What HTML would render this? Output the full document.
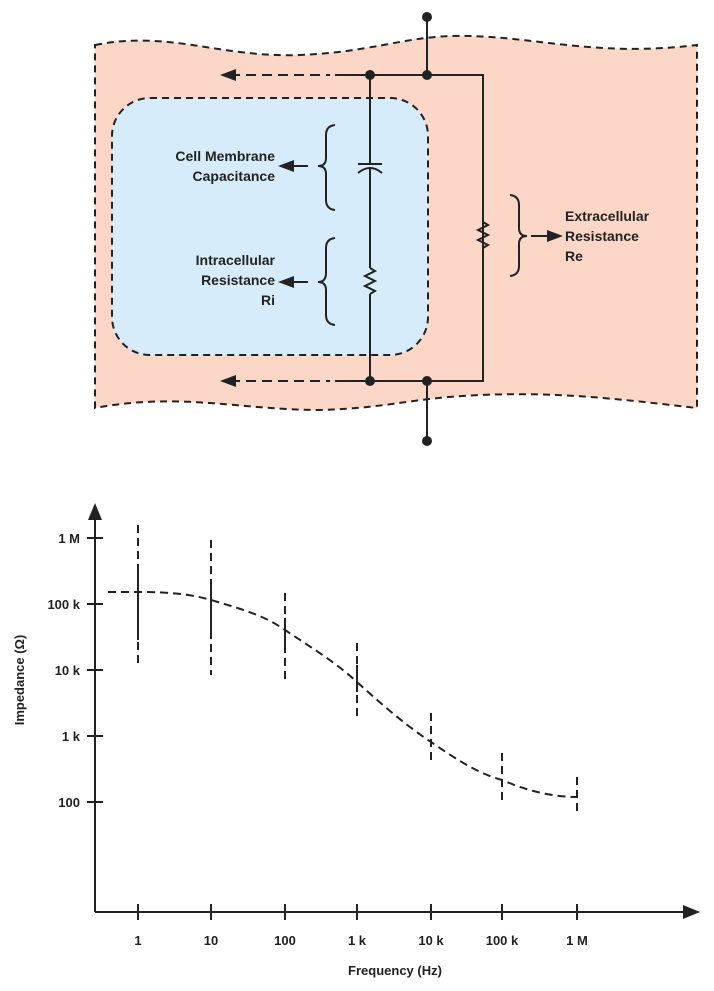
<!DOCTYPE html>
<html><head><style>body{margin:0;background:#fff}svg{display:block}text{font-family:"Liberation Sans",sans-serif;font-weight:bold;fill:#222}</style></head>
<body>
<svg width="714" height="991" viewBox="0 0 714 991" xmlns="http://www.w3.org/2000/svg">
<path d="M95,45 C170,30 220,58 300,55 C370,52 400,38 450,36 C530,34 590,58 697,45 L697,408 C610,398 560,392 480,395 C410,398 390,408 320,410 C240,410 180,392 95,408 Z" fill="#fcd7c7" stroke="#222" stroke-width="2" stroke-dasharray="7,5"/>
<rect x="112" y="98" width="316" height="257" rx="38" fill="#d6ecfa" stroke="#222" stroke-width="2" stroke-dasharray="7,5"/>
<g stroke="#222" stroke-width="2" fill="none">
<line x1="427" y1="17" x2="427" y2="75"/>
<line x1="427" y1="381" x2="427" y2="441"/>
<polyline points="335,75 483,75 483,381 335,381"/>
<line x1="230" y1="75" x2="330" y2="75" stroke-dasharray="10,6"/>
<line x1="230" y1="381" x2="330" y2="381" stroke-dasharray="10,6"/>
<line x1="370" y1="75" x2="370" y2="164"/>
<line x1="358" y1="164" x2="382" y2="164"/>
<path d="M358,173 Q370,163 382,173"/>
<line x1="370" y1="169" x2="370" y2="268"/>
<polyline points="370,268 375,271 365,276 375,281 365,286 375,291 370,294"/>
<line x1="370" y1="294" x2="370" y2="381"/>
<line x1="483" y1="75" x2="483" y2="222"/>
<polyline points="483,222 488,225 478,230 488,235 478,240 488,245 483,248"/>
<path d="M335,125 Q326,126 326,135 L326,158 Q326,166 318,166 Q326,166 326,174 L326,200 Q326,209 335,210"/>
<path d="M335,238 Q326,239 326,248 L326,273 Q326,282 318,282 Q326,282 326,290 L326,315 Q326,324 335,325"/>
<path d="M510,195 Q519,196 519,205 L519,228 Q519,236 527,236 Q519,236 519,244 L519,266 Q519,275 510,276"/>
<line x1="308" y1="166" x2="290" y2="166"/>
<line x1="308" y1="282" x2="290" y2="282"/>
<line x1="531" y1="236" x2="550" y2="236"/>
</g>
<g fill="#222">
<path d="M278,166 L294,160 L294,172 Z"/>
<path d="M278,282 L294,276 L294,288 Z"/>
<path d="M563,236 L547,230 L547,242 Z"/>
<path d="M220,75 L236,69 L236,81 Z"/>
<path d="M220,381 L236,375 L236,387 Z"/>
<circle cx="427" cy="17" r="5"/><circle cx="427" cy="441" r="5"/><circle cx="370" cy="75" r="5"/><circle cx="427" cy="75" r="5"/><circle cx="370" cy="381" r="5"/><circle cx="427" cy="381" r="5"/></g>
<g font-size="14" text-anchor="end">
<text x="275" y="161">Cell Membrane</text><text x="275" y="181">Capacitance</text>
<text x="275" y="265">Intracellular</text><text x="275" y="285">Resistance</text><text x="275" y="305">Ri</text>
</g>
<g font-size="14"><text x="565" y="221">Extracellular</text><text x="565" y="241">Resistance</text><text x="565" y="261">Re</text></g>
<g stroke="#222" stroke-width="2" fill="none">
<line x1="95" y1="912" x2="690" y2="912"/>
<line x1="95" y1="912" x2="95" y2="515"/>
<g><line x1="87" y1="538" x2="103" y2="538"/><line x1="87" y1="604" x2="103" y2="604"/><line x1="87" y1="670" x2="103" y2="670"/><line x1="87" y1="736" x2="103" y2="736"/><line x1="87" y1="802" x2="103" y2="802"/></g>
<g><line x1="138" y1="904" x2="138" y2="920"/><line x1="211" y1="904" x2="211" y2="920"/><line x1="285" y1="904" x2="285" y2="920"/><line x1="357" y1="904" x2="357" y2="920"/><line x1="431" y1="904" x2="431" y2="920"/><line x1="502" y1="904" x2="502" y2="920"/><line x1="577" y1="904" x2="577" y2="920"/></g>
<path d="M108,592 L138,592 C170,592 190,594 211,600 C245,610 265,616 285,630 C315,650 335,662 357,682 C390,712 410,728 431,742 C460,762 480,774 502,780 C530,792 555,797 577,797" stroke-dasharray="8,5"/>
<g stroke-dasharray="8,5">
<line x1="138" y1="525" x2="138" y2="668"/><line x1="211" y1="540" x2="211" y2="675"/><line x1="285" y1="593" x2="285" y2="680"/><line x1="357" y1="643" x2="357" y2="717"/><line x1="431" y1="713" x2="431" y2="760"/><line x1="502" y1="753" x2="502" y2="800"/><line x1="577" y1="777" x2="577" y2="816"/>
</g>
<line x1="138" y1="568" x2="138" y2="640"/><line x1="211" y1="580" x2="211" y2="632"/><line x1="285" y1="618" x2="285" y2="648"/><line x1="357" y1="665" x2="357" y2="692"/>
</g>
<path d="M95,503 L88,520 L102,520 Z" fill="#222"/>
<path d="M700,912 L683,905 L683,919 Z" fill="#222"/>
<g font-size="13" text-anchor="end"><text x="80" y="543">1 M</text><text x="80" y="609">100 k</text><text x="80" y="675">10 k</text><text x="80" y="741">1 k</text><text x="80" y="807">100</text></g>
<g font-size="13" text-anchor="middle"><text x="138" y="945">1</text><text x="211" y="945">10</text><text x="285" y="945">100</text><text x="357" y="945">1 k</text><text x="431" y="945">10 k</text><text x="502" y="945">100 k</text><text x="577" y="945">1 M</text>
<text x="395" y="975">Frequency (Hz)</text>
<text transform="translate(24,680) rotate(-90)">Impedance (Ω)</text></g>
</svg>
</body></html>
